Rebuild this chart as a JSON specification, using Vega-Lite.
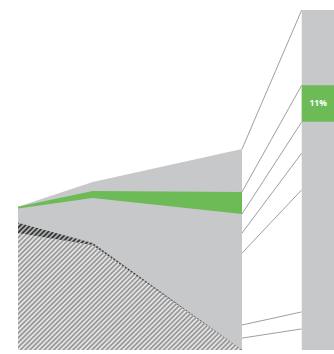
{
"$schema": "https://vega.github.io/schema/vega-lite/v6.json",
"width": 334, "height": 354, "padding": 0, "autosize": {"type": "none"},
"background": "#ffffff",
"config": {"view": {"stroke": null}},
"datasets": {
 "area": [
  {"year": 2010, "top": 42.1, "greenTop": 42.1, "greenBottom": 41.6, "hatchDark": 37.4, "hatchLight": 34.4},
  {"year": 2020, "top": 49.4, "greenTop": 46.8, "greenBottom": 44.7, "hatchDark": 31.5, "hatchLight": 30.9},
  {"year": 2040, "top": 59.1, "greenTop": 46.5, "greenBottom": 40.0, "hatchDark": 0, "hatchLight": 0}
 ],
 "bar": [
  {"segment": "rest", "start": 0, "end": 100},
  {"segment": "green", "start": 67.1, "end": 77.9, "label": "11%"}
 ],
 "links": [
  {"from": 59.1, "to": 100},
  {"from": 46.5, "to": 77.9},
  {"from": 40.0, "to": 67.1},
  {"from": 34.4, "to": 57.9},
  {"from": 28.5, "to": 47.1},
  {"from": 7.35, "to": 11.2},
  {"from": 3.5, "to": 6.2}
 ]
},
"layer": [
 {"data": {"name": "area"}, "mark": {"type": "area", "fill": "#c7c8ca"},
  "encoding": {
   "x": {"field": "year", "type": "quantitative", "scale": {"domain": [2007.589, 2052.32], "nice": false, "zero": false}, "axis": null},
   "y": {"field": "top", "type": "quantitative", "scale": {"domain": [-1.176, 102.94], "nice": false, "zero": false}, "axis": null},
   "y2": {"datum": 0}}},
 {"data": {"name": "area"}, "mark": {"type": "area", "fill": "#6dbb57"},
  "encoding": {"x": {"field": "year", "type": "quantitative", "axis": null}, "y": {"field": "greenTop", "type": "quantitative", "axis": null}, "y2": {"field": "greenBottom"}}},
 {"data": {"name": "area"}, "mark": {"type": "area", "fill": {"gradient": "linear", "x1": 0, "y1": 0, "x2": 1.186, "y2": 0.672, "stops": [
{"offset":0,"color":"#1e1e1e"},{"offset":0.007,"color":"#c7c8ca"},{"offset":0.014,"color":"#1e1e1e"},{"offset":0.021,"color":"#c7c8ca"},{"offset":0.028,"color":"#1e1e1e"},{"offset":0.035,"color":"#c7c8ca"},{"offset":0.042,"color":"#1e1e1e"},{"offset":0.049,"color":"#c7c8ca"},{"offset":0.056,"color":"#1e1e1e"},{"offset":0.063,"color":"#c7c8ca"},{"offset":0.07,"color":"#1e1e1e"},{"offset":0.077,"color":"#c7c8ca"},{"offset":0.084,"color":"#1e1e1e"},{"offset":0.091,"color":"#c7c8ca"},{"offset":0.098,"color":"#1e1e1e"},{"offset":0.105,"color":"#c7c8ca"},{"offset":0.112,"color":"#1e1e1e"},{"offset":0.119,"color":"#c7c8ca"},{"offset":0.126,"color":"#1e1e1e"},{"offset":0.133,"color":"#c7c8ca"},{"offset":0.14,"color":"#1e1e1e"},{"offset":0.147,"color":"#c7c8ca"},{"offset":0.154,"color":"#1e1e1e"},{"offset":0.161,"color":"#c7c8ca"},{"offset":0.168,"color":"#1e1e1e"},{"offset":0.175,"color":"#c7c8ca"},{"offset":0.182,"color":"#1e1e1e"},{"offset":0.189,"color":"#c7c8ca"},{"offset":0.196,"color":"#1e1e1e"},{"offset":0.203,"color":"#c7c8ca"},{"offset":0.21,"color":"#1e1e1e"},{"offset":0.217,"color":"#c7c8ca"},{"offset":0.224,"color":"#1e1e1e"},{"offset":0.231,"color":"#c7c8ca"},{"offset":0.238,"color":"#1e1e1e"},{"offset":0.245,"color":"#c7c8ca"},{"offset":0.252,"color":"#1e1e1e"},{"offset":0.259,"color":"#c7c8ca"},{"offset":0.266,"color":"#1e1e1e"},{"offset":0.273,"color":"#c7c8ca"},{"offset":0.28,"color":"#1e1e1e"},{"offset":0.287,"color":"#c7c8ca"},{"offset":0.294,"color":"#1e1e1e"},{"offset":0.301,"color":"#c7c8ca"},{"offset":0.308,"color":"#1e1e1e"},{"offset":0.315,"color":"#c7c8ca"},{"offset":0.322,"color":"#1e1e1e"},{"offset":0.329,"color":"#c7c8ca"},{"offset":0.336,"color":"#1e1e1e"},{"offset":0.343,"color":"#c7c8ca"},{"offset":0.35,"color":"#1e1e1e"},{"offset":0.357,"color":"#c7c8ca"},{"offset":0.364,"color":"#1e1e1e"},{"offset":0.371,"color":"#c7c8ca"},{"offset":0.378,"color":"#1e1e1e"},{"offset":0.385,"color":"#c7c8ca"},{"offset":0.392,"color":"#1e1e1e"},{"offset":0.399,"color":"#c7c8ca"},{"offset":0.406,"color":"#1e1e1e"},{"offset":0.413,"color":"#c7c8ca"},{"offset":0.42,"color":"#1e1e1e"},{"offset":0.427,"color":"#c7c8ca"},{"offset":0.434,"color":"#1e1e1e"},{"offset":0.441,"color":"#c7c8ca"},{"offset":0.448,"color":"#1e1e1e"},{"offset":0.455,"color":"#c7c8ca"},{"offset":0.462,"color":"#1e1e1e"},{"offset":0.469,"color":"#c7c8ca"},{"offset":0.476,"color":"#1e1e1e"},{"offset":0.483,"color":"#c7c8ca"},{"offset":0.49,"color":"#1e1e1e"},{"offset":0.497,"color":"#c7c8ca"},{"offset":0.504,"color":"#1e1e1e"},{"offset":0.511,"color":"#c7c8ca"},{"offset":0.518,"color":"#1e1e1e"},{"offset":0.525,"color":"#c7c8ca"},{"offset":0.532,"color":"#1e1e1e"},{"offset":0.539,"color":"#c7c8ca"},{"offset":0.546,"color":"#1e1e1e"},{"offset":0.553,"color":"#c7c8ca"},{"offset":0.56,"color":"#1e1e1e"},{"offset":0.567,"color":"#c7c8ca"},{"offset":0.574,"color":"#1e1e1e"},{"offset":0.581,"color":"#c7c8ca"},{"offset":0.588,"color":"#1e1e1e"},{"offset":0.595,"color":"#c7c8ca"},{"offset":0.602,"color":"#1e1e1e"},{"offset":0.609,"color":"#c7c8ca"},{"offset":0.616,"color":"#1e1e1e"},{"offset":0.623,"color":"#c7c8ca"},{"offset":0.63,"color":"#1e1e1e"},{"offset":0.637,"color":"#c7c8ca"},{"offset":0.644,"color":"#1e1e1e"},{"offset":0.651,"color":"#c7c8ca"},{"offset":0.658,"color":"#1e1e1e"},{"offset":0.665,"color":"#c7c8ca"},{"offset":0.672,"color":"#1e1e1e"},{"offset":0.679,"color":"#c7c8ca"},{"offset":0.686,"color":"#1e1e1e"},{"offset":0.693,"color":"#c7c8ca"},{"offset":0.7,"color":"#1e1e1e"},{"offset":0.707,"color":"#c7c8ca"},{"offset":0.714,"color":"#1e1e1e"},{"offset":0.721,"color":"#c7c8ca"},{"offset":0.728,"color":"#1e1e1e"},{"offset":0.735,"color":"#c7c8ca"},{"offset":0.742,"color":"#1e1e1e"},{"offset":0.749,"color":"#c7c8ca"},{"offset":0.756,"color":"#1e1e1e"},{"offset":0.763,"color":"#c7c8ca"},{"offset":0.77,"color":"#1e1e1e"},{"offset":0.777,"color":"#c7c8ca"},{"offset":0.784,"color":"#1e1e1e"},{"offset":0.791,"color":"#c7c8ca"},{"offset":0.798,"color":"#1e1e1e"},{"offset":0.805,"color":"#c7c8ca"},{"offset":0.812,"color":"#1e1e1e"},{"offset":0.819,"color":"#c7c8ca"},{"offset":0.826,"color":"#1e1e1e"},{"offset":0.833,"color":"#c7c8ca"},{"offset":0.84,"color":"#1e1e1e"},{"offset":0.847,"color":"#c7c8ca"},{"offset":0.854,"color":"#1e1e1e"},{"offset":0.861,"color":"#c7c8ca"},{"offset":0.868,"color":"#1e1e1e"},{"offset":0.875,"color":"#c7c8ca"},{"offset":0.882,"color":"#1e1e1e"},{"offset":0.889,"color":"#c7c8ca"},{"offset":0.896,"color":"#1e1e1e"},{"offset":0.903,"color":"#c7c8ca"},{"offset":0.91,"color":"#1e1e1e"},{"offset":0.917,"color":"#c7c8ca"},{"offset":0.924,"color":"#1e1e1e"},{"offset":0.931,"color":"#c7c8ca"},{"offset":0.938,"color":"#1e1e1e"},{"offset":0.945,"color":"#c7c8ca"},{"offset":0.952,"color":"#1e1e1e"},{"offset":0.959,"color":"#c7c8ca"},{"offset":0.966,"color":"#1e1e1e"},{"offset":0.973,"color":"#c7c8ca"},{"offset":0.98,"color":"#1e1e1e"},{"offset":0.987,"color":"#c7c8ca"},{"offset":0.994,"color":"#1e1e1e"}
 ]}},
  "encoding": {"x": {"field": "year", "type": "quantitative", "axis": null}, "y": {"field": "hatchDark", "type": "quantitative", "axis": null}, "y2": {"datum": 0}}},
 {"data": {"name": "area"}, "mark": {"type": "area", "fill": {"gradient": "linear", "x1": 0, "y1": 0, "x2": 1.196, "y2": 0.625, "stops": [
{"offset":0,"color":"#8a8a8a"},{"offset":0.007,"color":"#f2f2f2"},{"offset":0.014,"color":"#8a8a8a"},{"offset":0.021,"color":"#f2f2f2"},{"offset":0.028,"color":"#8a8a8a"},{"offset":0.035,"color":"#f2f2f2"},{"offset":0.042,"color":"#8a8a8a"},{"offset":0.049,"color":"#f2f2f2"},{"offset":0.056,"color":"#8a8a8a"},{"offset":0.063,"color":"#f2f2f2"},{"offset":0.07,"color":"#8a8a8a"},{"offset":0.077,"color":"#f2f2f2"},{"offset":0.084,"color":"#8a8a8a"},{"offset":0.091,"color":"#f2f2f2"},{"offset":0.098,"color":"#8a8a8a"},{"offset":0.105,"color":"#f2f2f2"},{"offset":0.112,"color":"#8a8a8a"},{"offset":0.119,"color":"#f2f2f2"},{"offset":0.126,"color":"#8a8a8a"},{"offset":0.133,"color":"#f2f2f2"},{"offset":0.14,"color":"#8a8a8a"},{"offset":0.147,"color":"#f2f2f2"},{"offset":0.154,"color":"#8a8a8a"},{"offset":0.161,"color":"#f2f2f2"},{"offset":0.168,"color":"#8a8a8a"},{"offset":0.175,"color":"#f2f2f2"},{"offset":0.182,"color":"#8a8a8a"},{"offset":0.189,"color":"#f2f2f2"},{"offset":0.196,"color":"#8a8a8a"},{"offset":0.203,"color":"#f2f2f2"},{"offset":0.21,"color":"#8a8a8a"},{"offset":0.217,"color":"#f2f2f2"},{"offset":0.224,"color":"#8a8a8a"},{"offset":0.231,"color":"#f2f2f2"},{"offset":0.238,"color":"#8a8a8a"},{"offset":0.245,"color":"#f2f2f2"},{"offset":0.252,"color":"#8a8a8a"},{"offset":0.259,"color":"#f2f2f2"},{"offset":0.266,"color":"#8a8a8a"},{"offset":0.273,"color":"#f2f2f2"},{"offset":0.28,"color":"#8a8a8a"},{"offset":0.287,"color":"#f2f2f2"},{"offset":0.294,"color":"#8a8a8a"},{"offset":0.301,"color":"#f2f2f2"},{"offset":0.308,"color":"#8a8a8a"},{"offset":0.315,"color":"#f2f2f2"},{"offset":0.322,"color":"#8a8a8a"},{"offset":0.329,"color":"#f2f2f2"},{"offset":0.336,"color":"#8a8a8a"},{"offset":0.343,"color":"#f2f2f2"},{"offset":0.35,"color":"#8a8a8a"},{"offset":0.357,"color":"#f2f2f2"},{"offset":0.364,"color":"#8a8a8a"},{"offset":0.371,"color":"#f2f2f2"},{"offset":0.378,"color":"#8a8a8a"},{"offset":0.385,"color":"#f2f2f2"},{"offset":0.392,"color":"#8a8a8a"},{"offset":0.399,"color":"#f2f2f2"},{"offset":0.406,"color":"#8a8a8a"},{"offset":0.413,"color":"#f2f2f2"},{"offset":0.42,"color":"#8a8a8a"},{"offset":0.427,"color":"#f2f2f2"},{"offset":0.434,"color":"#8a8a8a"},{"offset":0.441,"color":"#f2f2f2"},{"offset":0.448,"color":"#8a8a8a"},{"offset":0.455,"color":"#f2f2f2"},{"offset":0.462,"color":"#8a8a8a"},{"offset":0.469,"color":"#f2f2f2"},{"offset":0.476,"color":"#8a8a8a"},{"offset":0.483,"color":"#f2f2f2"},{"offset":0.49,"color":"#8a8a8a"},{"offset":0.497,"color":"#f2f2f2"},{"offset":0.504,"color":"#8a8a8a"},{"offset":0.511,"color":"#f2f2f2"},{"offset":0.518,"color":"#8a8a8a"},{"offset":0.525,"color":"#f2f2f2"},{"offset":0.532,"color":"#8a8a8a"},{"offset":0.539,"color":"#f2f2f2"},{"offset":0.546,"color":"#8a8a8a"},{"offset":0.553,"color":"#f2f2f2"},{"offset":0.56,"color":"#8a8a8a"},{"offset":0.567,"color":"#f2f2f2"},{"offset":0.574,"color":"#8a8a8a"},{"offset":0.581,"color":"#f2f2f2"},{"offset":0.588,"color":"#8a8a8a"},{"offset":0.595,"color":"#f2f2f2"},{"offset":0.602,"color":"#8a8a8a"},{"offset":0.609,"color":"#f2f2f2"},{"offset":0.616,"color":"#8a8a8a"},{"offset":0.623,"color":"#f2f2f2"},{"offset":0.63,"color":"#8a8a8a"},{"offset":0.637,"color":"#f2f2f2"},{"offset":0.644,"color":"#8a8a8a"},{"offset":0.651,"color":"#f2f2f2"},{"offset":0.658,"color":"#8a8a8a"},{"offset":0.665,"color":"#f2f2f2"},{"offset":0.672,"color":"#8a8a8a"},{"offset":0.679,"color":"#f2f2f2"},{"offset":0.686,"color":"#8a8a8a"},{"offset":0.693,"color":"#f2f2f2"},{"offset":0.7,"color":"#8a8a8a"},{"offset":0.707,"color":"#f2f2f2"},{"offset":0.714,"color":"#8a8a8a"},{"offset":0.721,"color":"#f2f2f2"},{"offset":0.728,"color":"#8a8a8a"},{"offset":0.735,"color":"#f2f2f2"},{"offset":0.742,"color":"#8a8a8a"},{"offset":0.749,"color":"#f2f2f2"},{"offset":0.756,"color":"#8a8a8a"},{"offset":0.763,"color":"#f2f2f2"},{"offset":0.77,"color":"#8a8a8a"},{"offset":0.777,"color":"#f2f2f2"},{"offset":0.784,"color":"#8a8a8a"},{"offset":0.791,"color":"#f2f2f2"},{"offset":0.798,"color":"#8a8a8a"},{"offset":0.805,"color":"#f2f2f2"},{"offset":0.812,"color":"#8a8a8a"},{"offset":0.819,"color":"#f2f2f2"},{"offset":0.826,"color":"#8a8a8a"},{"offset":0.833,"color":"#f2f2f2"},{"offset":0.84,"color":"#8a8a8a"},{"offset":0.847,"color":"#f2f2f2"},{"offset":0.854,"color":"#8a8a8a"},{"offset":0.861,"color":"#f2f2f2"},{"offset":0.868,"color":"#8a8a8a"},{"offset":0.875,"color":"#f2f2f2"},{"offset":0.882,"color":"#8a8a8a"},{"offset":0.889,"color":"#f2f2f2"},{"offset":0.896,"color":"#8a8a8a"},{"offset":0.903,"color":"#f2f2f2"},{"offset":0.91,"color":"#8a8a8a"},{"offset":0.917,"color":"#f2f2f2"},{"offset":0.924,"color":"#8a8a8a"},{"offset":0.931,"color":"#f2f2f2"},{"offset":0.938,"color":"#8a8a8a"},{"offset":0.945,"color":"#f2f2f2"},{"offset":0.952,"color":"#8a8a8a"},{"offset":0.959,"color":"#f2f2f2"},{"offset":0.966,"color":"#8a8a8a"},{"offset":0.973,"color":"#f2f2f2"},{"offset":0.98,"color":"#8a8a8a"},{"offset":0.987,"color":"#f2f2f2"},{"offset":0.994,"color":"#8a8a8a"}
 ]}},
  "encoding": {"x": {"field": "year", "type": "quantitative", "axis": null}, "y": {"field": "hatchLight", "type": "quantitative", "axis": null}, "y2": {"datum": 0}}},
 {"data": {"name": "links"}, "mark": {"type": "rule", "color": "#9d9fa1", "strokeWidth": 1},
  "encoding": {"x": {"datum": 2040, "type": "quantitative", "axis": null}, "x2": {"datum": 2048}, "y": {"field": "from", "type": "quantitative", "axis": null}, "y2": {"field": "to"}}},
 {"data": {"name": "bar"}, "mark": {"type": "rect"},
  "encoding": {"x": {"datum": 2048, "type": "quantitative", "axis": null}, "x2": {"datum": 2052.32}, "y": {"field": "start", "type": "quantitative", "axis": null}, "y2": {"field": "end"},
   "color": {"field": "segment", "type": "nominal", "scale": {"domain": ["rest", "green"], "range": ["#c7c8ca", "#6dbb57"]}, "legend": null}}},
 {"data": {"name": "bar"}, "transform": [{"filter": "datum.label != null"}], "mark": {"type": "text", "color": "#ffffff", "font": "Open Sans", "fontWeight": "bold", "fontSize": 8.5, "align": "center", "baseline": "middle"},
  "encoding": {"x": {"datum": 2050.2, "type": "quantitative", "axis": null}, "y": {"datum": 72.5, "type": "quantitative", "axis": null}, "text": {"field": "label"}}}
]
}
